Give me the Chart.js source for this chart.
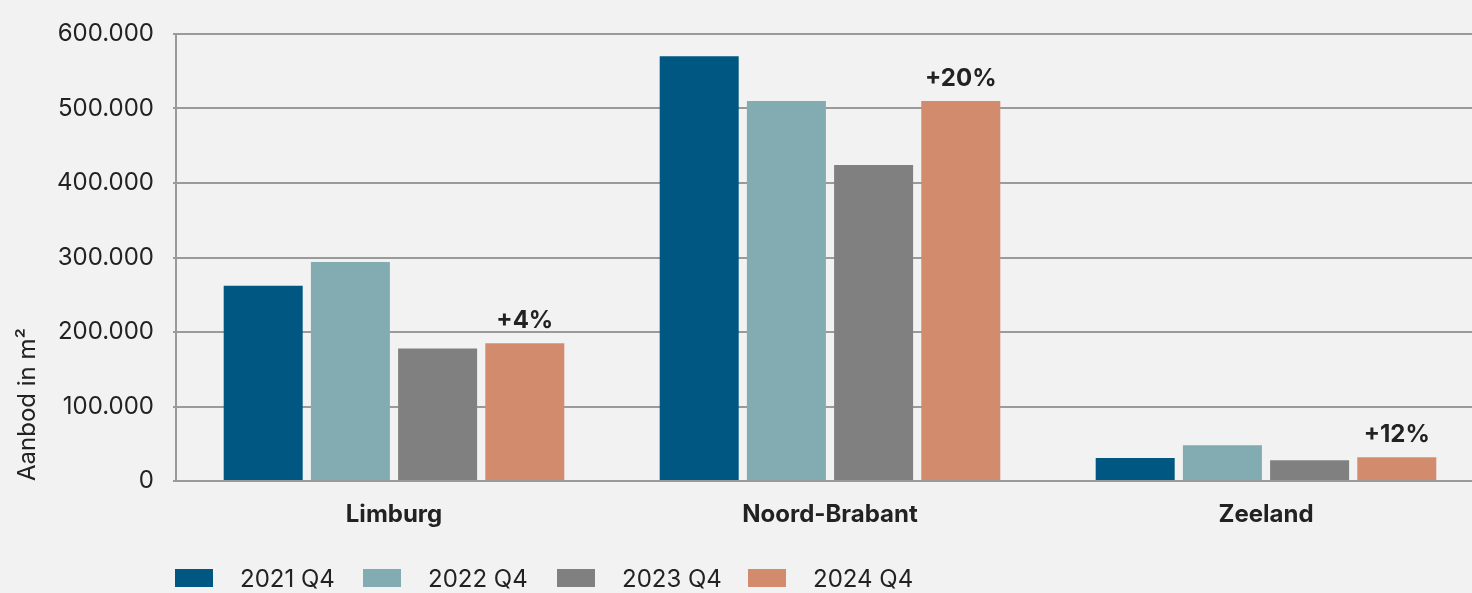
<!DOCTYPE html>
<html>
<head>
<meta charset="utf-8">
<script src="https://cdn.jsdelivr.net/npm/chart.js@4.4.1/dist/chart.umd.min.js"></script>
<style>
  html, body { margin: 0; padding: 0; background: #f2f2f2; overflow: hidden; }
  #wrap { position: relative; width: 1472px; height: 593px; }
  #myChart { position: absolute; left: 0; top: 0; }
  .legend { position: absolute; left: 175px; top: 565px; display: flex; font-family: Inter, sans-serif; font-size: 24px; color: #222; }
  .legend span.box { display: inline-block; width: 38px; height: 18px; margin-right: 27px; }
  .legend div { display: flex; align-items: center; height: 26px; }
</style>
</head>
<body>
<div id="wrap">
  <canvas id="myChart" width="1484" height="593"></canvas>
  <div class="legend" id="legend"></div>
</div>
<script>
const provincies = ["Limburg", "Noord-Brabant", "Zeeland"];
const jaren = ["2021 Q4", "2022 Q4", "2023 Q4", "2024 Q4"];
const kleuren = ["#005782", "#82abb2", "#808080", "#d38b6e"];

const aanbod2021 = [262000, 570000, 31000];
const aanbod2022 = [294000, 510000, 48000];
const aanbod2023 = [178000, 424000, 28000];
const aanbod2024 = [185000, 510000, 32000];
const groei = ["+4%", "+20%", "+12%"];

const series = [aanbod2021, aanbod2022, aanbod2023, aanbod2024];
// begin x van elk legenda-item
const legendaX = [175, 363, 557, 748];

// labels boven de 2024 balken
const groeiLabels = {
  id: "groeiLabels",
  afterDatasetsDraw(chart) {
    const ctx = chart.ctx;
    const meta = chart.getDatasetMeta(3);
    ctx.save();
    ctx.font = "bold 24px Inter, sans-serif";
    ctx.fillStyle = "#222";
    ctx.textAlign = "center";
    ctx.textBaseline = "alphabetic";
    meta.data.forEach((bar, i) => {
      ctx.fillText(groei[i], bar.x, bar.y - 15);
    });
    ctx.restore();
  }
};

function formatNL(v) {
  return String(v).replace(/\B(?=(\d{3})+(?!\d))/g, ".");
}

let ctx = document.getElementById("myChart").getContext("2d");
let myChart = new Chart(ctx, {
  type: "bar",
  data: {
    labels: provincies,
    datasets: jaren.map((jaar, i) => ({
      label: jaar,
      data: series[i],
      backgroundColor: kleuren[i],
      categoryPercentage: 0.8,
      barPercentage: 0.906,
    })),
  },
  options: {
    responsive: false,
    animation: false,
    layout: { padding: { top: 34, right: 0, left: 0, bottom: 0 } },
    plugins: {
      legend: { display: false },
      tooltip: { enabled: false },
    },
    scales: {
      x: {
        grid: { display: false, drawTicks: false },
        border: { color: "#9a9a9a", width: 2 },
        ticks: {
          color: "#222",
          font: { family: "Inter, sans-serif", size: 24, weight: "bold" },
          padding: 19,
        },
        afterFit(scale) { scale.height = 112; },
      },
      y: {
        min: 0,
        max: 600000,
        grid: { color: "#9a9a9a", lineWidth: 2, tickLength: 3 },
        border: { color: "#9a9a9a", width: 2 },
        ticks: {
          stepSize: 100000,
          color: "#222",
          font: { family: "Inter, sans-serif", size: 24 },
          padding: 19,
          callback: (v) => formatNL(v),
        },
        title: {
          display: true,
          text: "Aanbod in m²",
          align: "start",
          color: "#222",
          font: { family: "Inter, sans-serif", size: 24 },
          padding: { top: 13, bottom: 0 },
        },
        afterFit(scale) { scale.width = 176; },
      },
    },
  },
  plugins: [groeiLabels],
});

// legenda
const legend = document.getElementById("legend");
jaren.forEach((jaar, i) => {
  let item = document.createElement("div");
  item.style.position = "absolute";
  item.style.left = (legendaX[i] - legendaX[0]) + "px";
  item.style.whiteSpace = "nowrap";
  item.innerHTML = `<span class="box" style="background:${kleuren[i]}"></span>${jaar}`;
  legend.appendChild(item);
});
</script>
</body>
</html>
